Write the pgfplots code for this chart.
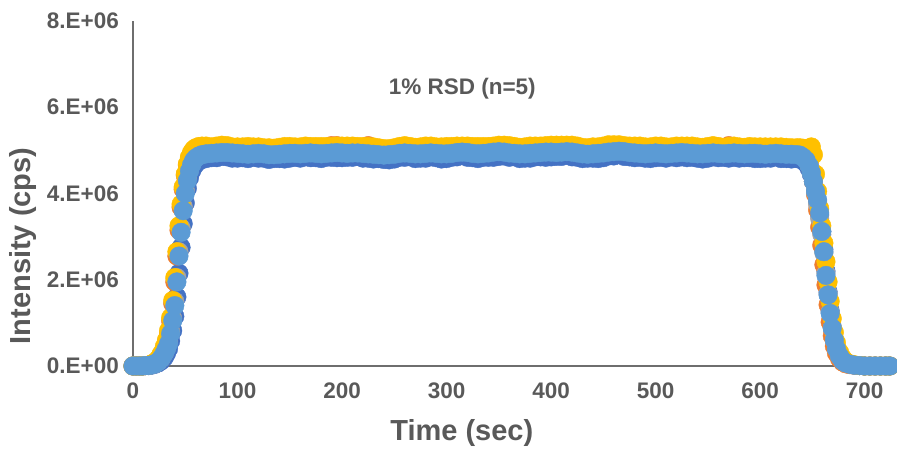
\documentclass[border=0pt]{standalone}
\usepackage{fontspec}
\setmainfont{Liberation Sans}
\usepackage{pgfplots}
\usepackage{pgfplotstable}
\pgfplotsset{compat=1.18}
\definecolor{sA}{HTML}{4472C4}
\definecolor{sB}{HTML}{ED7D31}
\definecolor{sC}{HTML}{A5A5A5}
\definecolor{sD}{HTML}{FFC000}
\definecolor{sE}{HTML}{5B9BD5}
\definecolor{txt}{HTML}{595959}
\definecolor{axl}{HTML}{6E6E6E}
\pgfplotstableread{
t a b c d e
0 0 0 0 0 0
3 0 0 0 0 0
6 0 0 0 0 0
9 0 0 0 0 0
12 0.01e6 0.01e6 0.01e6 0.01e6 0.01e6
15 0.01e6 0.02e6 0.01e6 0.02e6 0.01e6
18 0.02e6 0.04e6 0.03e6 0.05e6 0.03e6
21 0.04e6 0.08e6 0.05e6 0.09e6 0.05e6
24 0.07e6 0.14e6 0.10e6 0.16e6 0.10e6
27 0.12e6 0.25e6 0.18e6 0.28e6 0.18e6
30 0.20e6 0.40e6 0.30e6 0.45e6 0.30e6
32 0.29e6 0.55e6 0.42e6 0.60e6 0.40e6
34 0.40e6 0.75e6 0.58e6 0.82e6 0.52e6
36 0.58e6 1.05e6 0.80e6 1.12e6 0.75e6
38 0.82e6 1.45e6 1.10e6 1.52e6 1.05e6
40 1.15e6 1.95e6 1.50e6 2.05e6 1.40e6
42 1.60e6 2.55e6 2.05e6 2.65e6 1.95e6
44 2.15e6 3.15e6 2.65e6 3.25e6 2.55e6
46 2.75e6 3.68e6 3.20e6 3.75e6 3.10e6
48 3.30e6 4.10e6 3.70e6 4.15e6 3.60e6
50 3.78e6 4.42e6 4.08e6 4.45e6 4.00e6
52 4.12e6 4.65e6 4.36e6 4.68e6 4.30e6
54 4.36e6 4.80e6 4.55e6 4.84e6 4.52e6
56 4.52e6 4.90e6 4.68e6 4.95e6 4.66e6
58 4.62e6 4.97e6 4.77e6 5.02e6 4.76e6
60 4.69e6 5.01e6 4.83e6 5.06e6 4.82e6
63 4.75e6 5.04e6 4.88e6 5.09e6 4.87e6
66 4.79e6 5.05e6 4.91e6 5.10e6 4.90e6
70 4.81e6 5.06e6 4.93e6 5.10e6 4.92e6
75 4.83e6 5.05e6 4.99e6 5.08e6 4.93e6
80 4.83e6 5.07e6 5.00e6 5.10e6 4.94e6
85 4.86e6 5.10e6 5.01e6 5.12e6 4.95e6
90 4.85e6 5.08e6 5.01e6 5.11e6 4.95e6
95 4.82e6 5.06e6 5.00e6 5.08e6 4.94e6
100 4.82e6 5.05e6 4.99e6 5.08e6 4.93e6
105 4.83e6 5.05e6 4.98e6 5.08e6 4.92e6
110 4.81e6 5.05e6 4.97e6 5.09e6 4.91e6
115 4.84e6 5.05e6 4.98e6 5.08e6 4.92e6
120 4.82e6 5.06e6 4.99e6 5.08e6 4.93e6
125 4.82e6 5.03e6 4.98e6 5.06e6 4.92e6
130 4.79e6 5.03e6 4.96e6 5.06e6 4.90e6
135 4.81e6 5.03e6 4.96e6 5.05e6 4.90e6
140 4.81e6 5.04e6 4.97e6 5.07e6 4.91e6
145 4.80e6 5.06e6 4.98e6 5.09e6 4.92e6
150 4.82e6 5.07e6 4.99e6 5.09e6 4.93e6
155 4.84e6 5.05e6 4.99e6 5.08e6 4.93e6
160 4.82e6 5.05e6 4.98e6 5.08e6 4.92e6
165 4.85e6 5.07e6 4.99e6 5.10e6 4.93e6
170 4.83e6 5.07e6 5.00e6 5.09e6 4.94e6
175 4.83e6 5.06e6 4.99e6 5.09e6 4.93e6
180 4.81e6 5.06e6 4.98e6 5.09e6 4.92e6
185 4.84e6 5.07e6 4.99e6 5.09e6 4.93e6
190 4.84e6 5.11e6 5.00e6 5.09e6 4.94e6
195 4.83e6 5.11e6 5.01e6 5.10e6 4.95e6
200 4.83e6 5.07e6 5.00e6 5.10e6 4.94e6
205 4.84e6 5.07e6 4.99e6 5.10e6 4.93e6
210 4.84e6 5.08e6 5.00e6 5.10e6 4.94e6
215 4.86e6 5.06e6 5.00e6 5.09e6 4.94e6
220 4.82e6 5.06e6 4.99e6 5.09e6 4.93e6
225 4.82e6 5.11e6 4.98e6 5.09e6 4.92e6
230 4.80e6 5.05e6 4.97e6 5.08e6 4.91e6
235 4.81e6 5.03e6 4.96e6 5.06e6 4.90e6
240 4.79e6 5.02e6 4.95e6 5.04e6 4.89e6
245 4.78e6 5.01e6 4.96e6 5.04e6 4.90e6
250 4.80e6 5.03e6 4.97e6 5.06e6 4.91e6
255 4.84e6 5.06e6 4.99e6 5.09e6 4.93e6
260 4.84e6 5.09e6 5.00e6 5.11e6 4.94e6
265 4.85e6 5.06e6 4.99e6 5.09e6 4.93e6
270 4.81e6 5.04e6 4.98e6 5.07e6 4.92e6
275 4.82e6 5.05e6 4.98e6 5.08e6 4.92e6
280 4.82e6 5.08e6 4.99e6 5.10e6 4.93e6
285 4.85e6 5.07e6 5.00e6 5.10e6 4.94e6
290 4.83e6 5.05e6 4.99e6 5.08e6 4.93e6
295 4.80e6 5.05e6 4.98e6 5.08e6 4.92e6
300 4.81e6 5.07e6 4.98e6 5.09e6 4.92e6
305 4.84e6 5.06e6 4.99e6 5.09e6 4.93e6
310 4.85e6 5.07e6 5.01e6 5.10e6 4.95e6
315 4.88e6 5.07e6 5.02e6 5.10e6 4.96e6
320 4.84e6 5.08e6 5.01e6 5.10e6 4.95e6
325 4.83e6 5.06e6 4.99e6 5.09e6 4.93e6
330 4.81e6 5.06e6 4.98e6 5.09e6 4.92e6
335 4.84e6 5.06e6 4.99e6 5.09e6 4.93e6
340 4.84e6 5.07e6 5.00e6 5.09e6 4.94e6
345 4.84e6 5.07e6 5.02e6 5.10e6 4.96e6
350 4.86e6 5.09e6 5.03e6 5.12e6 4.97e6
355 4.87e6 5.09e6 5.02e6 5.12e6 4.96e6
360 4.84e6 5.09e6 5.00e6 5.11e6 4.94e6
365 4.85e6 5.06e6 4.99e6 5.09e6 4.93e6
370 4.81e6 5.04e6 4.98e6 5.07e6 4.92e6
375 4.82e6 5.05e6 4.98e6 5.08e6 4.92e6
380 4.82e6 5.08e6 4.99e6 5.10e6 4.93e6
385 4.85e6 5.07e6 5.00e6 5.10e6 4.94e6
390 4.85e6 5.07e6 5.01e6 5.10e6 4.95e6
395 4.84e6 5.08e6 5.02e6 5.11e6 4.96e6
400 4.85e6 5.10e6 5.02e6 5.12e6 4.96e6
405 4.86e6 5.09e6 5.01e6 5.12e6 4.95e6
410 4.86e6 5.09e6 5.02e6 5.12e6 4.96e6
415 4.89e6 5.09e6 5.03e6 5.12e6 4.97e6
420 4.85e6 5.10e6 5.02e6 5.12e6 4.96e6
425 4.84e6 5.07e6 5.00e6 5.10e6 4.94e6
430 4.81e6 5.04e6 4.98e6 5.07e6 4.92e6
435 4.82e6 5.03e6 4.97e6 5.06e6 4.91e6
440 4.82e6 5.06e6 4.98e6 5.08e6 4.92e6
445 4.81e6 5.05e6 4.99e6 5.08e6 4.93e6
450 4.83e6 5.07e6 5.00e6 5.10e6 4.94e6
455 4.87e6 5.10e6 5.02e6 5.13e6 4.96e6
460 4.87e6 5.11e6 5.03e6 5.13e6 4.97e6
465 4.90e6 5.10e6 5.04e6 5.13e6 4.98e6
470 4.86e6 5.08e6 5.03e6 5.11e6 4.97e6
475 4.85e6 5.07e6 5.01e6 5.10e6 4.95e6
480 4.83e6 5.08e6 5.00e6 5.10e6 4.94e6
485 4.84e6 5.07e6 4.99e6 5.10e6 4.93e6
490 4.82e6 5.05e6 4.98e6 5.08e6 4.92e6
495 4.81e6 5.05e6 4.99e6 5.08e6 4.93e6
500 4.83e6 5.08e6 5.00e6 5.10e6 4.94e6
505 4.84e6 5.07e6 4.99e6 5.10e6 4.93e6
510 4.82e6 5.05e6 4.98e6 5.08e6 4.92e6
515 4.85e6 5.05e6 4.99e6 5.08e6 4.93e6
520 4.83e6 5.08e6 5.00e6 5.10e6 4.94e6
525 4.85e6 5.07e6 5.01e6 5.10e6 4.95e6
530 4.83e6 5.07e6 5.00e6 5.10e6 4.94e6
535 4.84e6 5.07e6 4.99e6 5.10e6 4.93e6
540 4.82e6 5.06e6 4.98e6 5.08e6 4.92e6
545 4.80e6 5.04e6 4.98e6 5.07e6 4.92e6
550 4.82e6 5.06e6 4.99e6 5.09e6 4.93e6
555 4.85e6 5.08e6 5.00e6 5.11e6 4.94e6
560 4.83e6 5.07e6 4.99e6 5.09e6 4.93e6
565 4.84e6 5.04e6 4.98e6 5.07e6 4.92e6
570 4.82e6 5.11e6 4.99e6 5.09e6 4.93e6
575 4.84e6 5.07e6 5.00e6 5.10e6 4.94e6
580 4.82e6 5.05e6 4.99e6 5.08e6 4.93e6
585 4.83e6 5.04e6 4.98e6 5.07e6 4.92e6
590 4.83e6 5.07e6 4.99e6 5.09e6 4.93e6
595 4.81e6 5.05e6 4.99e6 5.08e6 4.93e6
600 4.81e6 5.05e6 4.98e6 5.08e6 4.92e6
605 4.82e6 5.05e6 4.97e6 5.08e6 4.91e6
610 4.82e6 5.06e6 4.98e6 5.08e6 4.92e6
615 4.85e6 5.05e6 4.99e6 5.08e6 4.93e6
620 4.81e6 5.05e6 4.98e6 5.08e6 4.92e6
625 4.81e6 5.04e6 4.97e6 5.07e6 4.91e6
630 4.80e6 5.04e6 4.97e6 5.06e6 4.91e6
635 4.81e6 5.03e6 4.96e6 5.06e6 4.90e6
638 4.80e6 5.02e6 4.95e6 5.06e6 4.89e6
641 4.76e6 4.98e6 4.90e6 5.05e6 4.84e6
644 4.70e6 4.90e6 4.82e6 5.04e6 4.77e6
647 4.58e6 4.72e6 4.65e6 5.05e6 4.64e6
649 4.45e6 4.52e6 4.48e6 5.08e6 4.48e6
651 4.28e6 4.28e6 4.28e6 4.90e6 4.28e6
653 4.05e6 3.98e6 4.03e6 4.45e6 4.05e6
655 3.80e6 3.62e6 3.75e6 4.05e6 3.85e6
657 3.50e6 3.22e6 3.42e6 3.65e6 3.55e6
659 3.12e6 2.80e6 3.05e6 3.25e6 3.12e6
661 2.70e6 2.35e6 2.62e6 2.85e6 2.65e6
663 2.20e6 1.88e6 2.15e6 2.42e6 2.10e6
665 1.72e6 1.42e6 1.68e6 1.95e6 1.65e6
667 1.28e6 1.02e6 1.25e6 1.50e6 1.22e6
669 0.90e6 0.70e6 0.88e6 1.10e6 0.88e6
671 0.62e6 0.46e6 0.60e6 0.78e6 0.60e6
673 0.42e6 0.30e6 0.40e6 0.54e6 0.40e6
676 0.24e6 0.17e6 0.23e6 0.32e6 0.23e6
679 0.13e6 0.09e6 0.12e6 0.18e6 0.12e6
682 0.07e6 0.05e6 0.07e6 0.10e6 0.07e6
686 0.04e6 0.03e6 0.04e6 0.05e6 0.04e6
690 0.02e6 0.02e6 0.02e6 0.03e6 0.02e6
695 0.01e6 0.01e6 0.01e6 0.01e6 0.01e6
700 0 0 0 0 0
705 0 0 0 0 0
710 0 0 0 0 0
715 0 0 0 0 0
720 0 0 0 0 0
724 0 0 0 0 0
}\data
\begin{document}
\begin{tikzpicture}
\begin{axis}[
  scale only axis, width=763pt, height=345pt,
  xmin=0, xmax=730, ymin=0, ymax=8e6,
  axis x line*=bottom, axis y line*=left,
  axis line style={draw=axl, line width=2.5pt},
  xtick={0,100,...,700},
  ytick={0,2e6,4e6,6e6,8e6},
  yticklabels={0.E+00,2.E+06,4.E+06,6.E+06,8.E+06},
  scaled y ticks=false,
  major tick length=0pt,
  tick style={draw=none},
  /pgf/number format/assume math mode=true,
  ticklabel style={font=\fontsize{22.5}{26}\selectfont\bfseries, text=txt, inner sep=0pt},
  xticklabel style={anchor=north, yshift=-17pt},
  yticklabel style={anchor=east, xshift=-14pt},
  xlabel={Time (sec)}, ylabel={Intensity (cps)},
  label style={font=\fontsize{29}{34}\selectfont\bfseries, text=txt},
  xlabel style={at={(axis description cs:0.431,-0.194)}, anchor=center},
  ylabel style={at={(axis description cs:-0.144,0.348)}, anchor=center},
  clip=false,
]
\addplot[only marks, mark=*, mark size=9.3pt, mark options={draw=sA, fill=sA}] table[x=t, y=a]{\data};
\addplot[only marks, mark=*, mark size=9.3pt, mark options={draw=sB, fill=sB}] table[x=t, y=b]{\data};
\addplot[only marks, mark=*, mark size=9.3pt, mark options={draw=sC, fill=sC}] table[x=t, y=c]{\data};
\addplot[only marks, mark=*, mark size=9.3pt, mark options={draw=sD, fill=sD}] table[x=t, y=d]{\data};
\addplot[only marks, mark=*, mark size=9.3pt, mark options={draw=sE, fill=sE}] table[x=t, y=e]{\data};
\node[font=\fontsize{22.5}{26}\selectfont\bfseries, text=txt] at (axis cs:315,6.42e6) {1\% RSD (n=5)};
\end{axis}
\pgfresetboundingbox
\path[use as bounding box] (-133pt,-83pt) rectangle (764pt,366pt);
\end{tikzpicture}
\end{document}
